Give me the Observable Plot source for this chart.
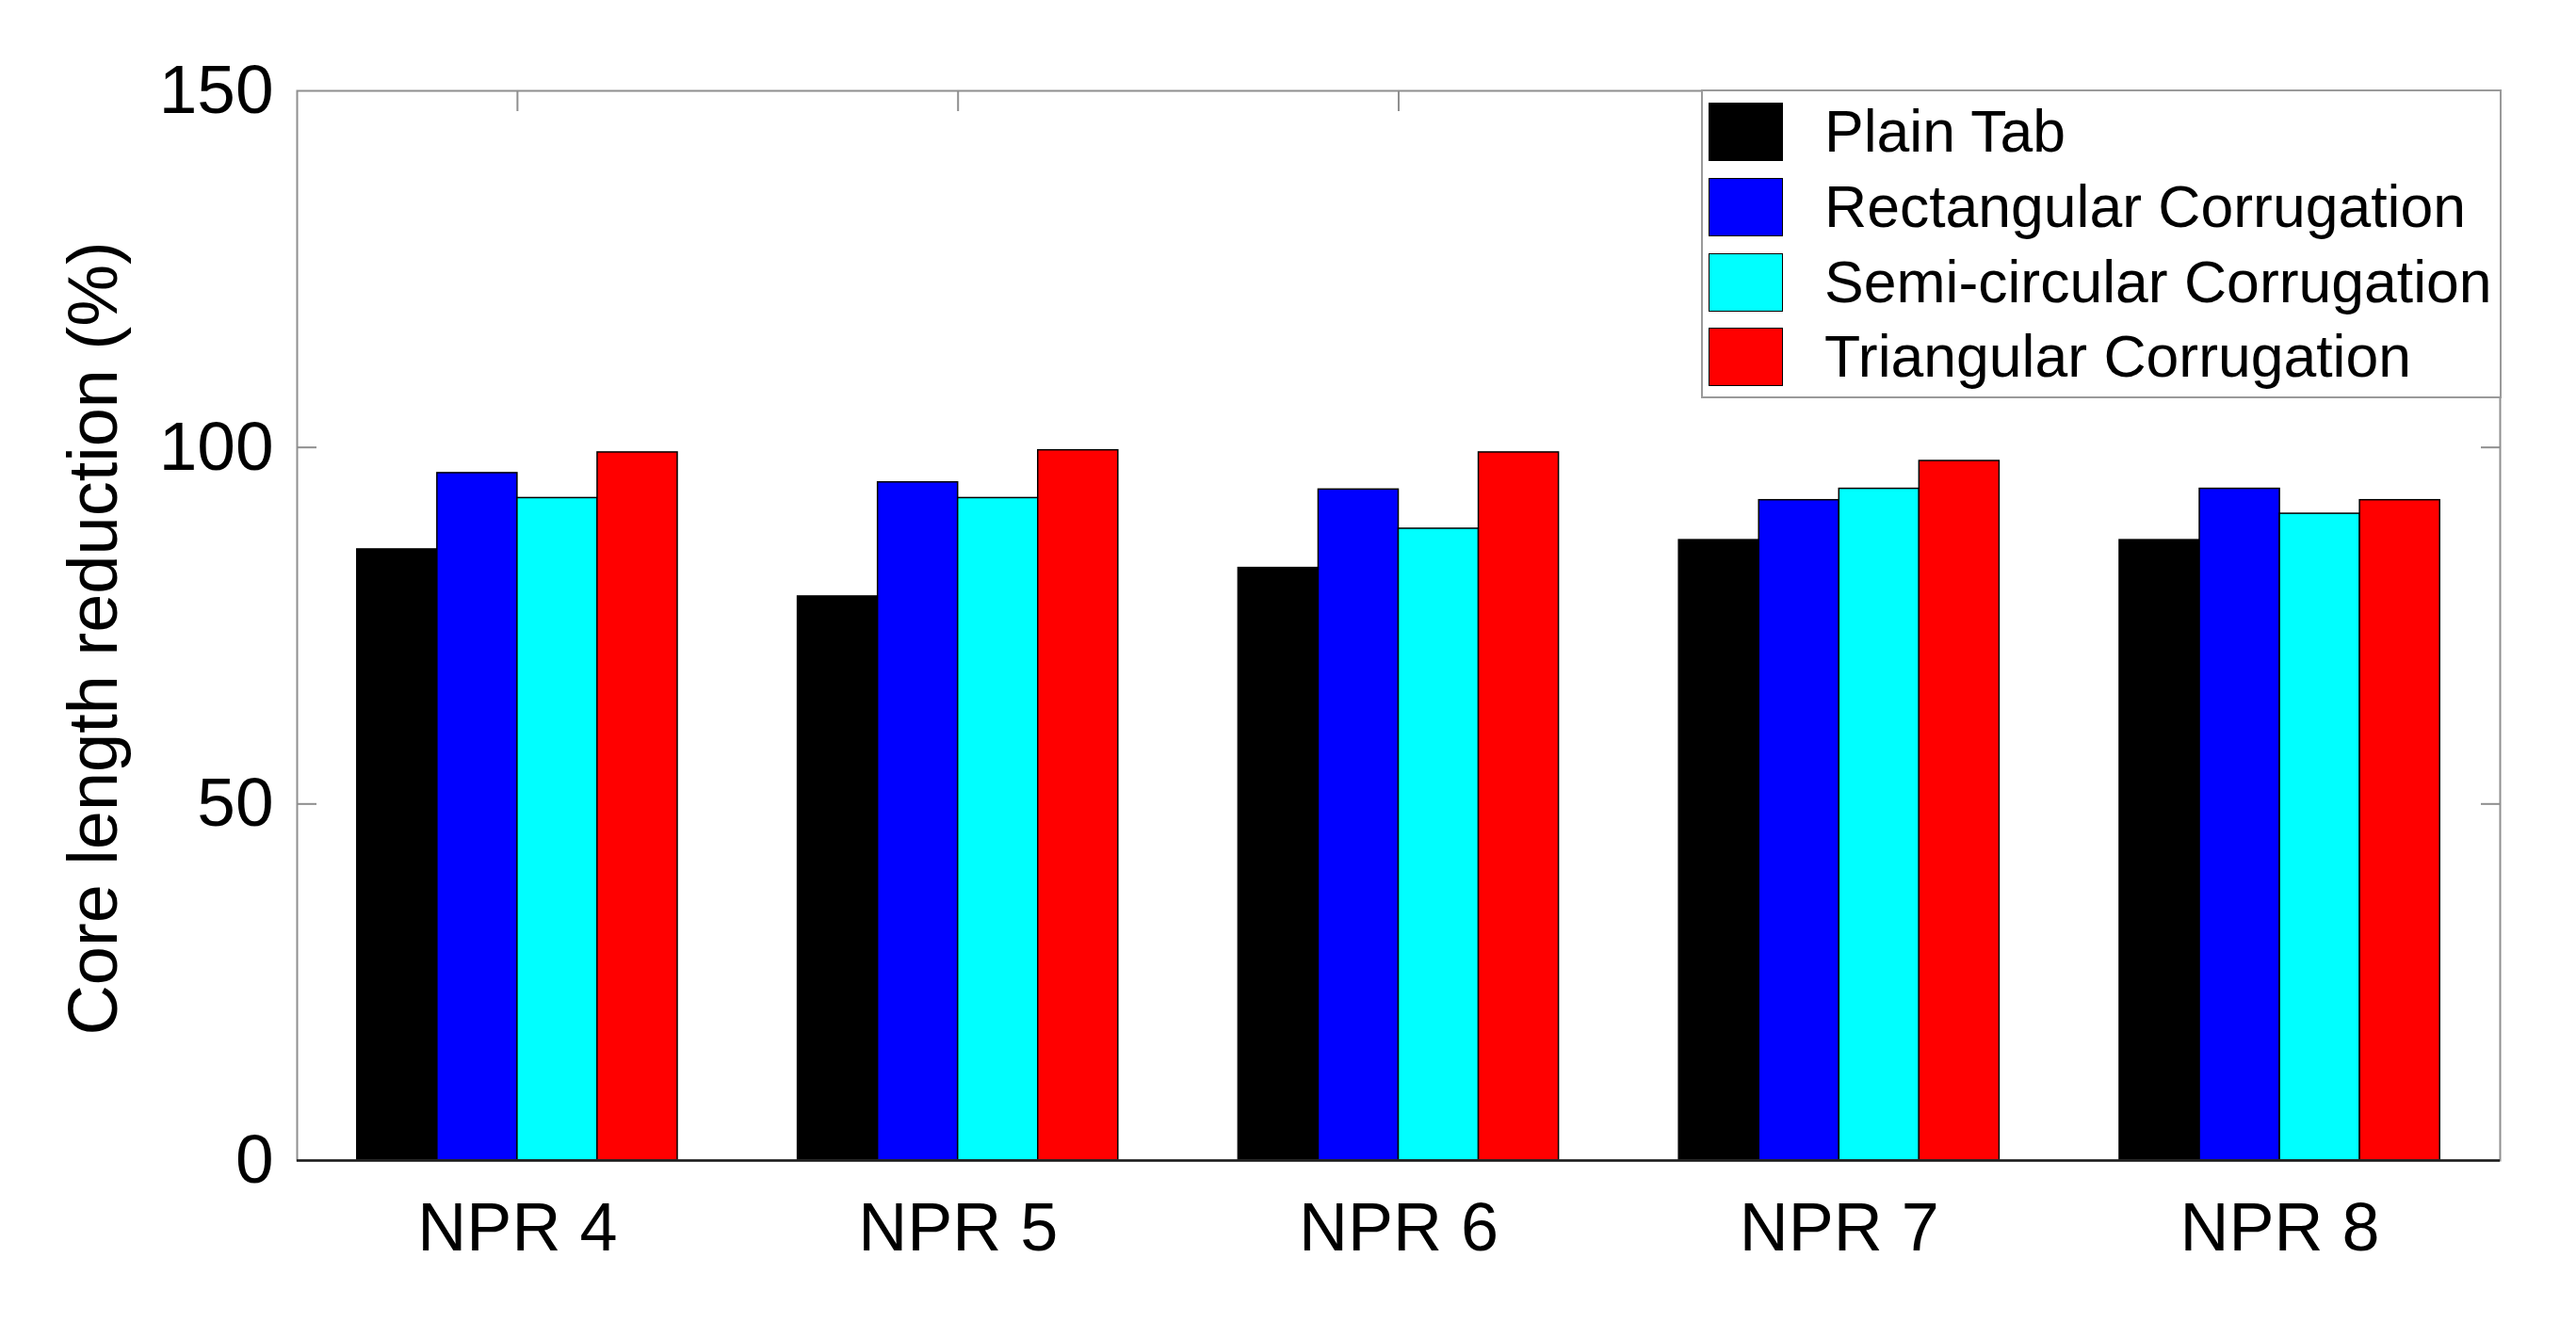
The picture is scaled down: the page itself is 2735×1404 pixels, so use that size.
<!DOCTYPE html>
<html>
<head>
<meta charset="utf-8">
<script src="https://cdn.jsdelivr.net/npm/d3@7"></script>
<script src="https://cdn.jsdelivr.net/npm/@observablehq/plot@0.6"></script>
<style>
  html, body { margin: 0; padding: 0; background: #fff; }
  #wrap { position: relative; width: 2735px; height: 1404px; font-family: "Liberation Sans", Arial, sans-serif; }
  #wrap svg { position: absolute; left: 0; top: 0; }
  #legend { position: absolute; left: 1806px; top: 95px; width: 846px; height: 324px; border: 2px solid #9a9a9a; background: #fff; box-sizing: content-box; }
  .item { position: absolute; left: 6px; height: 63px; display: flex; align-items: center; }
  .sw { width: 77px; height: 60px; border: 1.5px solid #000; }
  .lab { margin-left: 44px; font-size: 62.5px; color: #000; white-space: nowrap; line-height: 1; }
  #ylabel { position: absolute; left: 99px; top: 678px; transform: translate(-50%, -50%) rotate(-90deg); font-size: 74px; line-height: 1; white-space: nowrap; color: #000; }
</style>
</head>
<body>
<div id="wrap"></div>
<script>
const categories = ["NPR 4", "NPR 5", "NPR 6", "NPR 7", "NPR 8"];
const seriesNames = ["Plain Tab", "Rectangular Corrugation", "Semi-circular Corrugation", "Triangular Corrugation"];
const plainTab     = [85.7, 79.1, 83.1, 87.0, 87.0];
const rectangular  = [96.4, 95.1, 94.1, 92.6, 94.2];
const semicircular = [92.9, 92.9, 88.6, 94.2, 90.7];
const triangular   = [99.3, 99.6, 99.3, 98.1, 92.6];
const seriesColors = ["#000000", "#0000ff", "#00ffff", "#ff0000"];
const yTicks = [0, 50, 100, 150];
const yLabel = "Core length reduction (%)";

const seriesValues = [plainTab, rectangular, semicircular, triangular];
const nS = seriesNames.length;
// MATLAB-style grouped bars: groups at 1..N, group width = min(0.8, n/(n+1.5))
const groupW = Math.min(0.8, nS / (nS + 1.5));
const barW = groupW / nS;
const data = [];
categories.forEach((c, gi) => {
  seriesNames.forEach((s, si) => {
    const x1 = (gi + 1) - groupW / 2 + si * barW;
    data.push({category: c, series: s, x1, x2: x1 + barW, value: seriesValues[si][gi]});
  });
});
const xTicks = categories.map((c, i) => i + 1);
const frameColor = "#8f8f8f";

const chart = Plot.plot({
  width: 2735,
  height: 1404,
  marginLeft: 315,
  marginRight: 81,
  marginTop: 96,
  marginBottom: 172,
  style: {fontFamily: "'Liberation Sans', Arial, sans-serif", fontSize: "73px", background: "#fff", color: "#000"},
  x: {type: "linear", domain: [0.5, categories.length + 0.5]},
  y: {domain: [0, 150]},
  color: {type: "ordinal", domain: seriesNames, range: seriesColors},
  marks: [
    Plot.rectY(data, {x1: "x1", x2: "x2", y: "value", fill: "series", stroke: "#000", strokeWidth: 1.5}),
    Plot.frame({stroke: frameColor, strokeWidth: 2}),
    Plot.ruleY([0], {stroke: "#1a1a1a", strokeWidth: 2.5}),
    // inward ticks (mirrored box ticks)
    Plot.axisY({anchor: "left", ticks: [50, 100], tickSize: 21, dx: 21, fill: "none", stroke: frameColor, strokeWidth: 2, label: null}),
    Plot.axisY({anchor: "right", ticks: [50, 100], tickSize: 21, dx: -21, fill: "none", stroke: frameColor, strokeWidth: 2, label: null}),
    Plot.axisX({anchor: "top", ticks: xTicks, tickSize: 21, dy: 21, fill: "none", stroke: frameColor, strokeWidth: 2, label: null}),
    // tick labels
    Plot.axisY({anchor: "left", ticks: yTicks, tickSize: 0, tickPadding: 25, fontSize: 73, label: null}),
    Plot.axisX({anchor: "bottom", ticks: xTicks, tickFormat: d => categories[d - 1], tickSize: 0, tickPadding: 44, fontSize: 72, label: null})
  ]
});

const wrap = document.getElementById("wrap");
wrap.appendChild(chart);

const yl = document.createElement("div");
yl.id = "ylabel";
yl.textContent = yLabel;
wrap.appendChild(yl);

const legend = document.createElement("div");
legend.id = "legend";
const rowTops = [11, 91, 171, 250];
seriesNames.forEach((s, i) => {
  const item = document.createElement("div");
  item.className = "item";
  item.style.top = rowTops[i] + "px";
  const sw = document.createElement("div");
  sw.className = "sw";
  sw.style.background = seriesColors[i];
  const lab = document.createElement("div");
  lab.className = "lab";
  lab.textContent = s;
  item.appendChild(sw);
  item.appendChild(lab);
  legend.appendChild(item);
});
wrap.appendChild(legend);
</script>
</body>
</html>
